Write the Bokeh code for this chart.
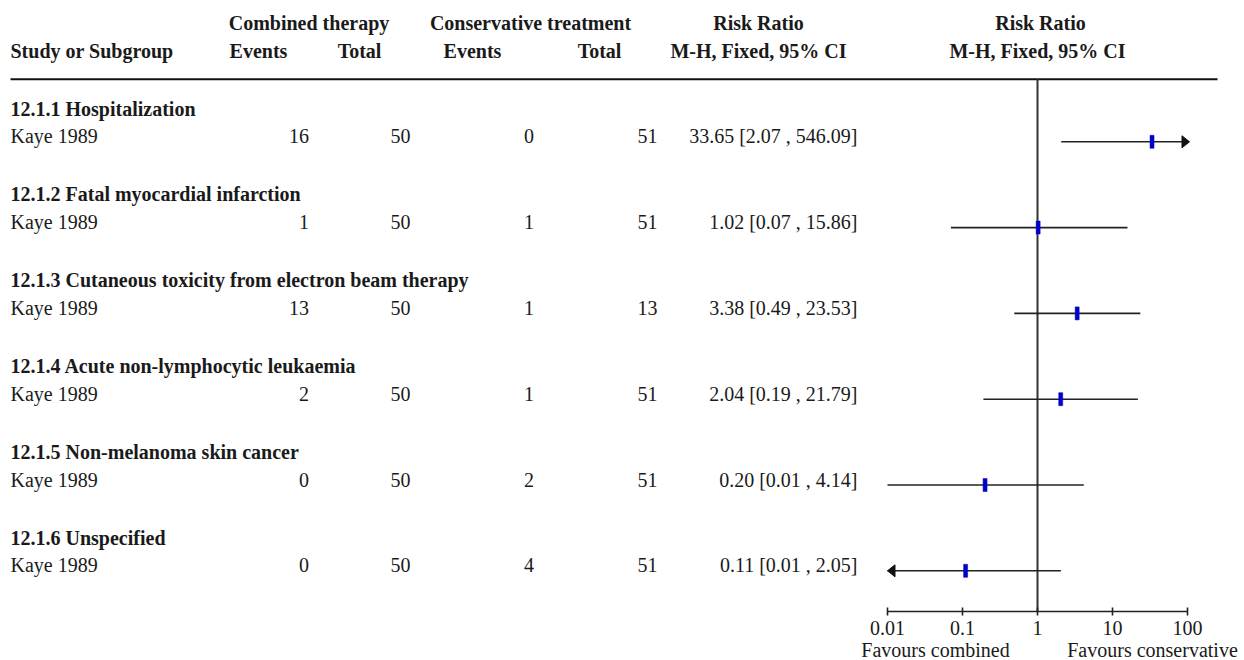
import math

from bokeh.core.properties import value
from bokeh.embed import file_html
from bokeh.models import ColumnDataSource, FixedTicker, LogAxis, LogScale, Range1d
from bokeh.plotting import figure
from bokeh.resources import INLINE

# ---- data -------------------------------------------------------------
GROUPS = [
    "12.1.1 Hospitalization",
    "12.1.2 Fatal myocardial infarction",
    "12.1.3 Cutaneous toxicity from electron beam therapy",
    "12.1.4 Acute non-lymphocytic leukaemia",
    "12.1.5 Non-melanoma skin cancer",
    "12.1.6 Unspecified",
]
STUDIES = ["Kaye 1989"] * 6
COMB_EVENTS = [16, 1, 13, 2, 0, 0]
COMB_TOTAL = [50, 50, 50, 50, 50, 50]
CONS_EVENTS = [0, 1, 1, 1, 2, 4]
CONS_TOTAL = [51, 51, 13, 51, 51, 51]
RR = [33.65, 1.02, 3.38, 2.04, 0.20, 0.11]
CI_LOW = [2.07, 0.07, 0.49, 0.19, 0.01, 0.01]
CI_HIGH = [546.09, 15.86, 23.53, 21.79, 4.14, 2.05]
# lower limit falls below the plotted scale (shown rounded to 0.01)
LOW_OFF_SCALE = [False, False, False, False, False, True]

TICKS = [0.01, 0.1, 1, 10, 100]
TICK_LABELS = ["0.01", "0.1", "1", "10", "100"]
FAVOURS_LEFT = "Favours combined"
FAVOURS_RIGHT = "Favours conservative"

# ---- layout -----------------------------------------------------------
W, H = 1244, 660
AXIS_Y = 611
AX_LEFT_PX, AX_RIGHT_PX = 887, 1187
AX_MIN, AX_MAX = TICKS[0], TICKS[-1]
PX_PER_DEC = (AX_RIGHT_PX - AX_LEFT_PX) / math.log10(AX_MAX / AX_MIN)

FONT = value("Liberation Serif")
FS = value("20px")
INK = "#1a1a1a"

GROUP_Y0 = 108.0
GROUP_PITCH = 85.8
STUDY_DY = 27.8
LINE_DY = 5.5  # interval line sits a little below the study text

p = figure(
    width=W, height=H,
    x_range=Range1d(0, W), y_range=Range1d(H, 0),
    output_backend="svg", toolbar_location=None,
    x_axis_location=None, y_axis_location=None,
    min_border=0,
)
p.outline_line_color = None
p.grid.visible = False
p.background_fill_color = "white"
p.border_fill_color = "white"

# log scale for the risk-ratio panel
rr_start = 10 ** (math.log10(AX_MIN) - AX_LEFT_PX / PX_PER_DEC)
rr_end = 10 ** (math.log10(AX_MAX) + (W - AX_RIGHT_PX) / PX_PER_DEC)
p.extra_x_ranges = {"rr": Range1d(rr_start, rr_end)}
p.extra_x_scales = {"rr": LogScale()}


def txt(xs, ys, texts, align="left", bold=False, **kw):
    p.text(x=xs, y=ys, text=texts, text_font=FONT, text_font_size=FS,
           text_font_style="bold" if bold else "normal", text_color=INK,
           text_align=align, text_baseline="alphabetic", **kw)


# column headers
H1, H2 = 22.5, 50.5
txt([308.5, 530, 758, 1040], [H1] * 4,
    ["Combined therapy", "Conservative treatment", "Risk Ratio", "Risk Ratio"],
    align="center", bold=True)
txt([10], [H2], ["Study or Subgroup"], bold=True)
txt([258, 359, 472, 599, 758, 1037], [H2] * 6,
    ["Events", "Total", "Events", "Total", "M-H, Fixed, 95% CI", "M-H, Fixed, 95% CI"],
    align="center", bold=True)

# rule under header
p.segment(x0=[10], x1=[1217], y0=[78.8], y1=[78.8], line_color="#111111", line_width=2)

n = len(GROUPS)
gy = [GROUP_Y0 + GROUP_PITCH * i for i in range(n)]
sy = [g + STUDY_DY for g in gy]

txt([10] * n, gy, GROUPS, bold=True)
txt([10] * n, sy, STUDIES)
txt([308.5] * n, sy, [str(v) for v in COMB_EVENTS], align="right")
txt([410] * n, sy, [str(v) for v in COMB_TOTAL], align="right")
txt([533.5] * n, sy, [str(v) for v in CONS_EVENTS], align="right")
txt([657] * n, sy, [str(v) for v in CONS_TOTAL], align="right")
ci_text = [f"{r:.2f} [{lo:.2f} , {hi:.2f}]" for r, lo, hi in zip(RR, CI_LOW, CI_HIGH)]
txt([857] * n, sy, ci_text, align="right")

# line of no effect
p.segment(x0=[1], x1=[1], y0=[78.8], y1=[AXIS_Y], x_range_name="rr",
          line_color="#333333", line_width=2)

# confidence intervals
ly = [y + LINE_DY for y in sy]
ci_src = ColumnDataSource(dict(
    x0=[max(lo, AX_MIN) for lo in CI_LOW],
    x1=[min(hi, AX_MAX) for hi in CI_HIGH],
    y=ly,
))
p.segment(x0="x0", x1="x1", y0="y", y1="y", source=ci_src, x_range_name="rr",
          line_color="#222222", line_width=1.6)

# arrow heads where the interval runs off the scale
HEAD_LEN, HEAD_HALF = 7.5, 6.0
xs, ys = [], []
for lo, hi, off, y in zip(CI_LOW, CI_HIGH, LOW_OFF_SCALE, ly):
    if hi > AX_MAX:
        tip = math.log10(AX_MAX) + 2 / PX_PER_DEC
        base = tip - HEAD_LEN / PX_PER_DEC
        xs.append([10 ** base, 10 ** tip, 10 ** base])
        ys.append([y - HEAD_HALF, y, y + HEAD_HALF])
    if off or lo < AX_MIN:
        tip = math.log10(AX_MIN)
        base = tip + HEAD_LEN / PX_PER_DEC
        xs.append([10 ** base, 10 ** tip, 10 ** base])
        ys.append([y - HEAD_HALF, y, y + HEAD_HALF])
if xs:
    p.patches(xs=xs, ys=ys, x_range_name="rr", fill_color="#111111", line_color="#111111", line_width=1)

# point estimates
p.rect(x=RR, y=ly, width=4, height=13, width_units="screen", height_units="screen",
       x_range_name="rr", fill_color="#0000cc", line_color="#0000cc", line_width=0.5)

# log axis drawn inside the plot area at a fixed height
ax = LogAxis(x_range_name="rr", ticker=FixedTicker(ticks=TICKS, minor_ticks=[]),
             bounds=(AX_MIN, AX_MAX), fixed_location=AXIS_Y)
ax.major_label_overrides = {t: lab for t, lab in zip(TICKS, TICK_LABELS)}
ax.axis_line_color = "#222222"
ax.axis_line_width = 1.6
ax.major_tick_line_color = "#222222"
ax.major_tick_line_width = 1.6
ax.major_tick_in = 4
ax.major_tick_out = 4
ax.minor_tick_line_color = None
ax.major_label_standoff = 5
ax.major_label_text_font = "Liberation Serif"
ax.major_label_text_font_size = "20px"
ax.major_label_text_color = INK
p.add_layout(ax, "below")

# direction labels under the scale
txt([935, 1152], [649, 649], [FAVOURS_LEFT, FAVOURS_RIGHT], align="center")

open("out.html", "w").write(file_html(p, INLINE))
